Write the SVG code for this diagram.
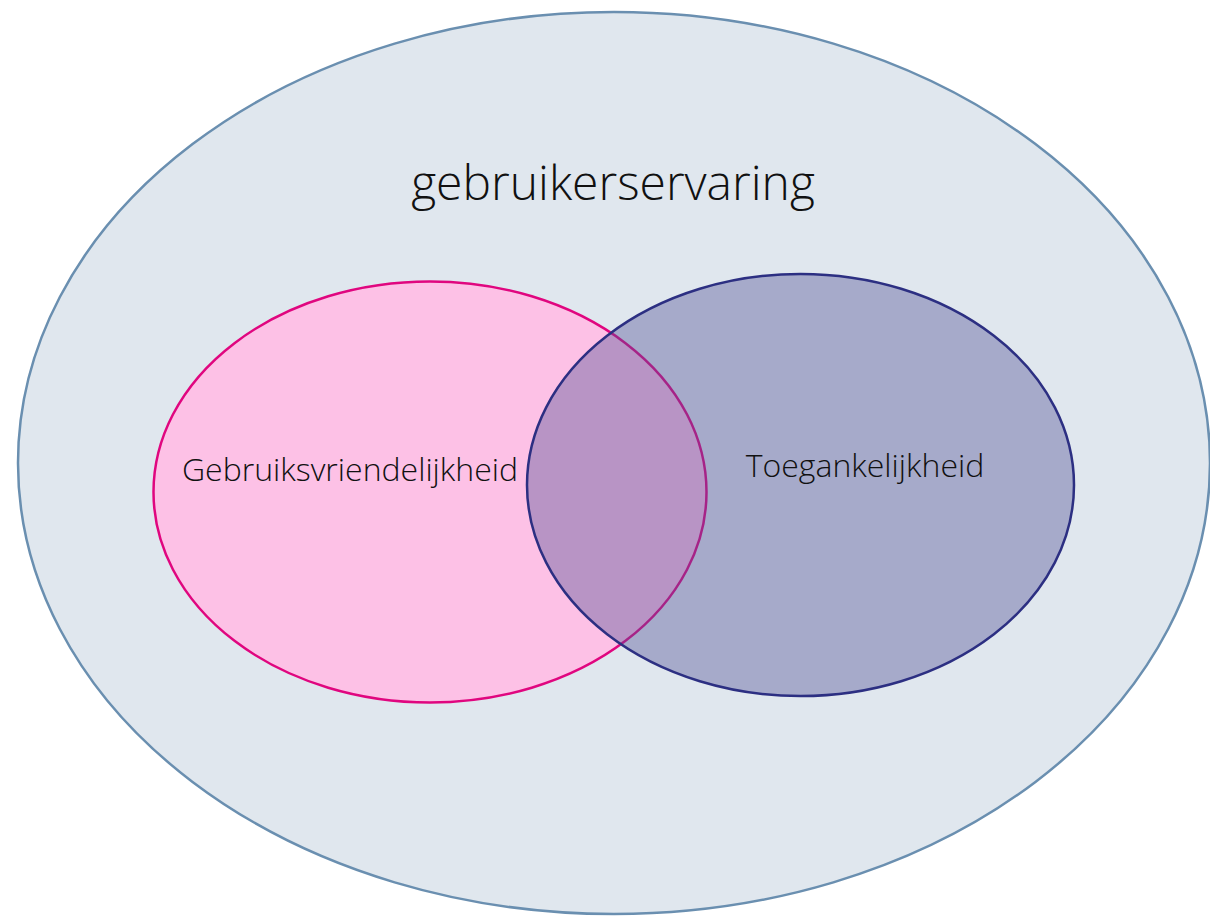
<svg xmlns="http://www.w3.org/2000/svg" width="1210" height="916" viewBox="0 0 1210 916">
  <style>
    .lbl { font-family: "Open Sans", "Liberation Sans", sans-serif; font-weight: 300; fill: #111111; text-anchor: middle; }
  </style>
  <rect width="1210" height="916" fill="#ffffff"/>
  <g id="gebruikerservaring">
    <ellipse cx="614" cy="463" rx="596" ry="451" fill="#e0e7ee" stroke="#6a8fb0" stroke-width="2.5"/>
    <text class="lbl" x="613" y="200" font-size="48">gebruikerservaring</text>
  </g>
  <g id="gebruiksvriendelijkheid">
    <ellipse cx="430" cy="492" rx="276.5" ry="210.5" fill="#fdc1e6" stroke="#e0067f" stroke-width="2.5"/>
    <text class="lbl" x="350" y="481" font-size="32">Gebruiksvriendelijkheid</text>
  </g>
  <g id="toegankelijkheid">
    <ellipse cx="800.5" cy="485" rx="273.5" ry="211" fill="#4f5194" fill-opacity="0.4" stroke="#2c2f82" stroke-width="2.5"/>
    <text class="lbl" x="865" y="477" font-size="32">Toegankelijkheid</text>
  </g>
  <g id="connectors"/>
</svg>
